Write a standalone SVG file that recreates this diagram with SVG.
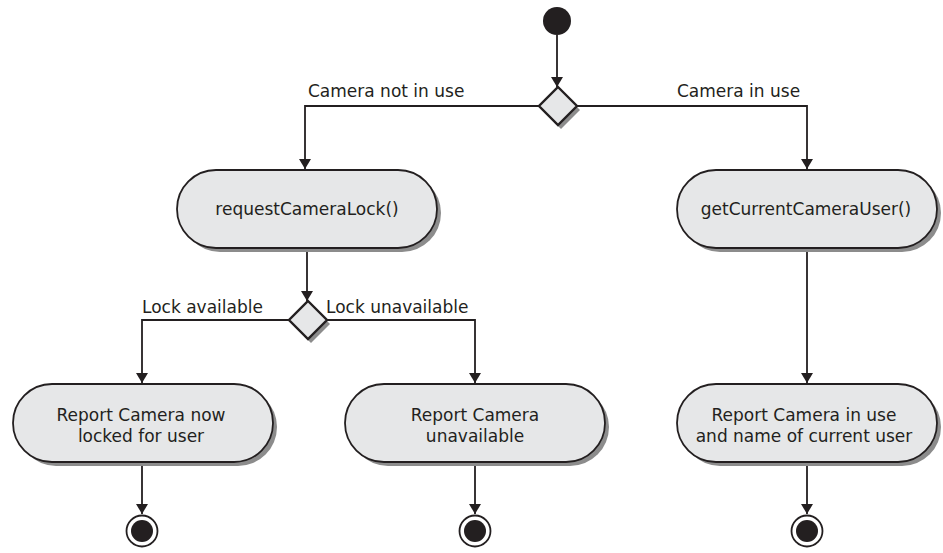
<svg xmlns="http://www.w3.org/2000/svg" width="943" height="553" viewBox="0 0 943 553">
<style>
.act{fill:#e6e7e8;stroke:#231f20;stroke-width:1.8}
.sh{fill:#8c8c8c;stroke:none}
.dec{fill:#e6e7e8;stroke:#231f20;stroke-width:2.4}
.ln{fill:none;stroke:#231f20;stroke-width:1.8}
.t{font-family:"DejaVu Sans","Liberation Sans",sans-serif;font-size:17px;fill:#231f20;text-anchor:middle}
.lbl{font-family:"DejaVu Sans","Liberation Sans",sans-serif;font-size:17px;fill:#231f20}
</style>
<defs>
<marker id="arr" viewBox="0 0 10 12" refX="10" refY="6" markerWidth="10" markerHeight="12" markerUnits="userSpaceOnUse" orient="auto">
<path d="M0,0 L10,6 L0,12 Z" fill="#231f20"/>
</marker>
</defs>
<g id="connectors">
<path class="ln" d="M557,35 V87" marker-end="url(#arr)"/>
<path class="ln" d="M539,106 H305 V169" marker-end="url(#arr)"/>
<path class="ln" d="M577,106 H807 V169" marker-end="url(#arr)"/>
<path class="ln" d="M307,248 V301" marker-end="url(#arr)"/>
<path class="ln" d="M289,320 H142 V383" marker-end="url(#arr)"/>
<path class="ln" d="M327,320 H475 V383" marker-end="url(#arr)"/>
<path class="ln" d="M807,248 V383" marker-end="url(#arr)"/>
<path class="ln" d="M142,462 V514" marker-end="url(#arr)"/>
<path class="ln" d="M475,462 V514" marker-end="url(#arr)"/>
<path class="ln" d="M807,462 V514" marker-end="url(#arr)"/>
</g>
<g id="start">
<circle cx="557" cy="21" r="14" fill="#231f20"/>
</g>
<g id="decision1">
<path class="sh" d="M561,91 L580,110 L561,129 L542,110 Z"/>
<path class="dec" d="M558,87 L577,106 L558,125 L539,106 Z"/>
</g>
<g id="requestCameraLock">
<rect class="sh" x="181" y="174" width="260" height="78" rx="39"/>
<rect class="act" x="177" y="170" width="260" height="78" rx="39"/>
<text class="t" x="307" y="215">requestCameraLock()</text>
</g>
<g id="getCurrentCameraUser">
<rect class="sh" x="681" y="174" width="260" height="78" rx="39"/>
<rect class="act" x="677" y="170" width="260" height="78" rx="39"/>
<text class="t" x="806" y="215">getCurrentCameraUser()</text>
</g>
<g id="decision2">
<path class="sh" d="M311,305 L330,324 L311,343 L292,324 Z"/>
<path class="dec" d="M308,301 L327,320 L308,339 L289,320 Z"/>
</g>
<g id="reportLocked">
<rect class="sh" x="17" y="388" width="260" height="78" rx="39"/>
<rect class="act" x="13" y="384" width="260" height="78" rx="39"/>
<text class="t" x="141" y="420.5">Report Camera now</text>
<text class="t" x="141" y="441.5">locked for user</text>
</g>
<g id="reportUnavailable">
<rect class="sh" x="349" y="388" width="260" height="78" rx="39"/>
<rect class="act" x="345" y="384" width="260" height="78" rx="39"/>
<text class="t" x="475" y="420.5">Report Camera</text>
<text class="t" x="475" y="441.5">unavailable</text>
</g>
<g id="reportInUse">
<rect class="sh" x="681" y="388" width="260" height="78" rx="39"/>
<rect class="act" x="677" y="384" width="260" height="78" rx="39"/>
<text class="t" x="804" y="420.5">Report Camera in use</text>
<text class="t" x="804" y="441.5">and name of current user</text>
</g>
<g id="end1">
<circle cx="142" cy="531" r="15.5" fill="#fff" stroke="#231f20" stroke-width="1.8"/>
<circle cx="142" cy="531" r="11" fill="#231f20"/>
</g>
<g id="end2">
<circle cx="475" cy="531" r="15.5" fill="#fff" stroke="#231f20" stroke-width="1.8"/>
<circle cx="475" cy="531" r="11" fill="#231f20"/>
</g>
<g id="end3">
<circle cx="807" cy="531" r="15.5" fill="#fff" stroke="#231f20" stroke-width="1.8"/>
<circle cx="807" cy="531" r="11" fill="#231f20"/>
</g>
<g id="labels">
<text class="lbl" x="308" y="97">Camera not in use</text>
<text class="lbl" x="677" y="97">Camera in use</text>
<text class="lbl" x="142" y="313">Lock available</text>
<text class="lbl" x="326" y="313">Lock unavailable</text>
</g>
</svg>
